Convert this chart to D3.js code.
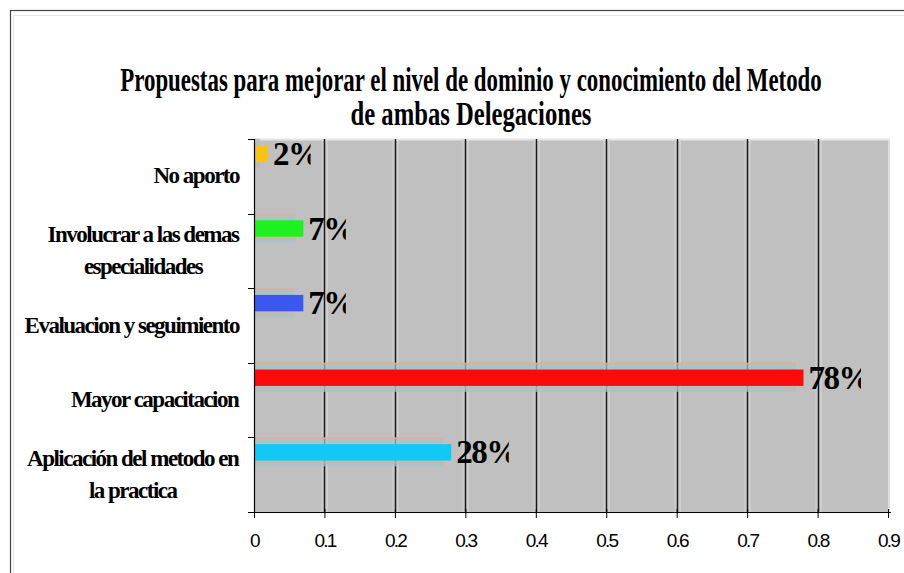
<!DOCTYPE html>
<html>
<head>
<meta charset="utf-8">
<script src="https://cdn.jsdelivr.net/npm/d3@7/dist/d3.min.js"></script>
<style>
  html, body { margin: 0; padding: 0; background: #fff; }
  svg { display: block; }
</style>
</head>
<body>
<svg id="chart" width="904" height="573"></svg>
<script>
// Proposal categories, top to bottom, with their share of responses
const categories = [
  "No aporto",
  "Involucrar a las demas|especialidades",
  "Evaluacion y seguimiento",
  "Mayor capacitacion",
  "Aplicación del metodo en|la practica"
];
const shares = [0.02, 0.07, 0.07, 0.78, 0.28];
const valueLabels = ["2%", "7%", "7%", "78%", "28%"];
const barColors = ["#f7c21a", "#1ff01f", "#3a57f0", "#ff0a0a", "#12c8f4"];
const xTicks = [0, 0.1, 0.2, 0.3, 0.4, 0.5, 0.6, 0.7, 0.8, 0.9];
const titleLines = [
  "Propuestas para mejorar el nivel de dominio y conocimiento del Metodo",
  "de ambas Delegaciones"
];

const svg = d3.select("#chart");
const plot = { left: 254, right: 890, top: 139, bottom: 512 };
const serif = "'Liberation Serif', 'Times New Roman', serif";

// Outer chart frame
svg.append("rect").attr("x", 10.5).attr("y", 10.5).attr("width", 900).attr("height", 580)
  .attr("fill", "#fff").attr("stroke", "#444").attr("stroke-width", 1.2);
svg.append("rect").attr("x", 13.5).attr("y", 15.5).attr("width", 900).attr("height", 580)
  .attr("fill", "none").attr("stroke", "#e8e8e8").attr("stroke-width", 1);

// Title, squeezed horizontally to a condensed face
const titleWidths = [702, 241];
titleLines.forEach((t, i) => {
  const g = svg.append("g");
  const txt = g.append("text")
    .attr("x", 0).attr("y", 0)
    .attr("text-anchor", "middle")
    .attr("font-family", serif).attr("font-weight", "bold").attr("font-size", 33)
    .attr("fill", "#000")
    .text(t);
  const natural = txt.node().getComputedTextLength();
  g.attr("transform", `translate(471,${91 + i * 34}) scale(${titleWidths[i] / natural},1)`);
});

// Scales
const x = d3.scaleLinear().domain([0, 0.9]).range([plot.left, plot.left + 0.9 * 704.5]);
const y = d3.scaleBand().domain(categories).range([plot.top, plot.bottom]).padding(0);

// Plot background
svg.append("rect")
  .attr("x", plot.left).attr("y", plot.top)
  .attr("width", plot.right - plot.left).attr("height", plot.bottom - plot.top)
  .attr("fill", "#c0c0c0");
svg.append("line").attr("x1", plot.left).attr("x2", plot.right)
  .attr("y1", plot.top + 0.5).attr("y2", plot.top + 0.5)
  .attr("stroke", "#e6e6e6").attr("stroke-width", 2);
svg.append("line").attr("x1", plot.right - 1).attr("x2", plot.right - 1)
  .attr("y1", plot.top).attr("y2", plot.bottom)
  .attr("stroke", "#e6e6e6").attr("stroke-width", 1.5);

// Vertical gridlines with light bevel edges
const grid = svg.append("g");
xTicks.slice(1, -1).forEach(t => {
  const gx = Math.round(x(t)) + 0.5;
  grid.append("line").attr("x1", gx + 2.5).attr("x2", gx + 2.5)
    .attr("y1", plot.top).attr("y2", plot.bottom)
    .attr("stroke", "#dcdcdc").attr("stroke-width", 1);
  grid.append("line").attr("x1", gx - 2.5).attr("x2", gx - 2.5)
    .attr("y1", plot.top).attr("y2", plot.bottom)
    .attr("stroke", "#d2d2d2").attr("stroke-width", 1);
  grid.append("line").attr("x1", gx).attr("x2", gx)
    .attr("y1", plot.top).attr("y2", plot.bottom)
    .attr("stroke", "#1a1a1a").attr("stroke-width", 1.4);
});

// Bars sit in the upper part of each category band
const barTop = c => y(c) + y.bandwidth() * 0.09;
const barH = y.bandwidth() * 0.22;

const rows = categories.map((c, i) => ({ c, v: shares[i], label: valueLabels[i], color: barColors[i] }));

// Soft halo around each bar
const halo = svg.append("g");
rows.forEach(d => {
  const hw = Math.max(0, x(d.v) - x(0) - 8);
  halo.append("rect")
    .attr("x", x(0)).attr("y", barTop(d.c) - 6)
    .attr("width", hw).attr("height", barH + 12)
    .attr("fill", "#a4c4c6").attr("opacity", 0.75);
  halo.append("rect")
    .attr("x", x(0)).attr("y", barTop(d.c) - 7)
    .attr("width", hw).attr("height", 2)
    .attr("fill", "#e2ae94").attr("opacity", 0.8);
  halo.append("rect")
    .attr("x", x(0)).attr("y", barTop(d.c) + barH + 1)
    .attr("width", hw).attr("height", 2)
    .attr("fill", "#e2ae94").attr("opacity", 0.6);
});

svg.append("g").selectAll("rect").data(rows).join("rect")
  .attr("x", x(0)).attr("y", d => barTop(d.c))
  .attr("width", d => x(d.v) - x(0)).attr("height", barH)
  .attr("fill", d => d.color);

// Value labels, clipped at their right edge
const defs = svg.append("defs");
rows.forEach((d, i) => {
  const lx = x(d.v) + 5;
  const t = svg.append("text")
    .attr("x", lx).attr("y", barTop(d.c) + barH / 2 + 11)
    .attr("font-family", serif).attr("font-weight", "bold").attr("font-size", 33)
    .attr("letter-spacing", -1.5)
    .attr("fill", "#000")
    .text(d.label);
  const w = t.node().getComputedTextLength();
  defs.append("clipPath").attr("id", "vclip" + i)
    .append("rect").attr("x", lx - 2).attr("y", barTop(d.c) - 30)
    .attr("width", w - 7).attr("height", 70);
  t.attr("clip-path", `url(#vclip${i})`);
});

// Axes
const xAxis = d3.axisBottom(x).tickValues(xTicks).tickSize(6).tickFormat(d3.format(".1~f"))
  .tickSizeOuter(0);
const gx = svg.append("g").attr("transform", `translate(0,${plot.bottom})`).call(xAxis);
gx.select(".domain").attr("d", `M${plot.left - 6},0.5H${plot.right + 1}`).attr("stroke", "#000");
gx.selectAll(".tick line").attr("stroke", "#000").attr("y1", -3);
gx.selectAll(".tick text")
  .attr("y", 22).attr("dy", "0.71em")
  .attr("font-family", "'Liberation Sans', Arial, sans-serif").attr("font-size", 19)
  .attr("letter-spacing", -1.8).attr("fill", "#000");

const yAxis = d3.axisLeft(y).tickSize(0).tickFormat("");
const gy = svg.append("g").attr("transform", `translate(${plot.left},0)`).call(yAxis);
gy.select(".domain").attr("d", `M0.5,${plot.top}V${plot.bottom}`).attr("stroke", "#000").attr("stroke-width", 1.2);
// Band boundary ticks
const bounds = categories.map(c => y(c)).concat([plot.bottom]);
gy.selectAll(".bound").data(bounds).join("line")
  .attr("x1", -6).attr("x2", 0)
  .attr("y1", d => Math.round(d) + 0.5).attr("y2", d => Math.round(d) + 0.5)
  .attr("stroke", "#000");

// Category labels: lines centered on each other, block right-aligned to the axis
const labelRight = 240;
categories.forEach(c => {
  const lines = c.split("|");
  const cy = y(c) + y.bandwidth() / 2;
  const g = svg.append("g");
  const t = g.append("text")
    .attr("text-anchor", "middle")
    .attr("font-family", serif).attr("font-weight", "bold").attr("font-size", 23)
    .attr("letter-spacing", -1.5)
    .attr("fill", "#000");
  lines.forEach((ln, k) => {
    t.append("tspan").attr("x", 0)
      .attr("y", cy + 7 + (k - (lines.length - 1) / 2) * 32)
      .text(ln);
  });
  const bb = t.node().getBBox();
  g.attr("transform", `translate(${labelRight - (bb.x + bb.width)},0)`);
});
</script>
</body>
</html>
